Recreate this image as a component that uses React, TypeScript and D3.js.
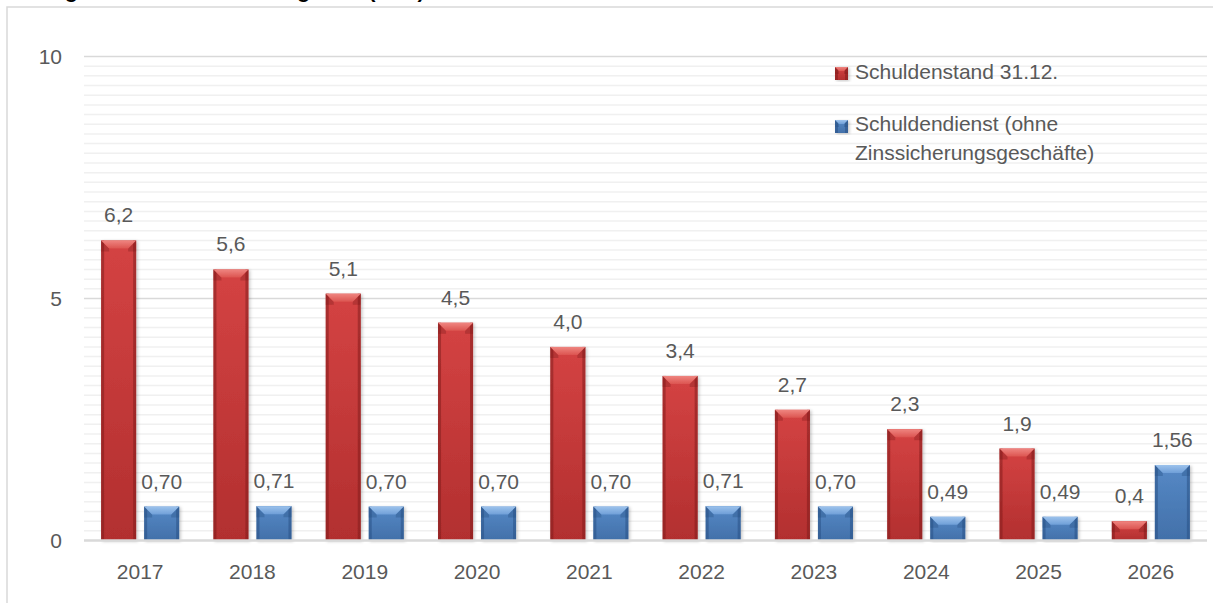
import React from "react";
import * as d3 from "d3";

const years = ["2017", "2018", "2019", "2020", "2021", "2022", "2023", "2024", "2025", "2026"];
const schuldenstand = [6.2, 5.6, 5.1, 4.5, 4.0, 3.4, 2.7, 2.3, 1.9, 0.4];
const schuldendienst = [0.7, 0.71, 0.7, 0.7, 0.7, 0.71, 0.7, 0.49, 0.49, 1.56];
const seriesNames = ["Schuldenstand 31.12.", "Schuldendienst (ohne Zinssicherungsgeschäfte)"];
const yTicks = [0, 5, 10];
const titleText = "Prognose der Verschuldung 2026 (Mio.)";

const W = 1213;
const H = 603;
const FONT = "'Liberation Sans', Arial, sans-serif";
const TXT = "#595959";

const palettes = [
  { id: "red", top: "#dc5551", face0: "#d44343", face1: "#b22f2f", edge: "#7e1a1a", bevel: "#ef8580" },
  { id: "blue", top: "#6f9fd8", face0: "#5689c6", face1: "#4270a9", edge: "#264e82", bevel: "#9cc2ec" },
];

function Bar({ x, y, w, h, p, dmax = 8 }: { x: number; y: number; w: number; h: number; p: (typeof palettes)[0]; dmax?: number }) {
  const d = Math.max(0, Math.min(dmax, h / 2, w / 2));
  const e = Math.min(3, w / 4);
  return (
    <g filter="url(#shadow)">
      <rect x={x} y={y} width={w} height={h} fill={`url(#face-${p.id})`} />
      <rect x={x} y={y} width={e} height={h} fill={p.edge} opacity={0.5} />
      <rect x={x + w - e} y={y} width={e} height={h} fill={p.edge} opacity={0.5} />
      <polygon
        points={`${x},${y} ${x + d},${y + d} ${x + d},${y + d + 3} ${x},${y + d + 3}`}
        fill={p.edge}
        opacity={0.35}
      />
      <polygon
        points={`${x + w},${y} ${x + w - d},${y + d} ${x + w - d},${y + d + 3} ${x + w},${y + d + 3}`}
        fill={p.edge}
        opacity={0.35}
      />
      <polygon
        points={`${x},${y} ${x + w},${y} ${x + w - d},${y + d} ${x + d},${y + d}`}
        fill={`url(#bevel-${p.id})`}
      />
    </g>
  );
}

export default function App() {
  const x0 = d3
    .scaleBand<string>()
    .domain(years)
    .range([84, 1207])
    .paddingInner(0.305)
    .paddingOuter(0.1525);
  const x1 = d3
    .scaleBand<number>()
    .domain([0, 1])
    .range([0, x0.bandwidth()])
    .paddingInner(0.186);
  const y = d3.scaleLinear().domain([0, 10]).range([540.5, 56.5]);
  const minor = d3.range(0, 10.0001, 0.2).filter((v) => Math.abs(v % 5) > 0.01 && Math.abs((v % 5) - 5) > 0.01);
  const series = [schuldenstand, schuldendienst];
  const fmt = [(v: number) => d3.format(".1f")(v).replace(".", ","), (v: number) => d3.format(".2f")(v).replace(".", ",")];

  return (
    <svg width={W} height={H} style={{ position: "absolute", left: 0, top: 0, display: "block", background: "#fff" }}>
      <defs>
        {palettes.map((p) => (
          <React.Fragment key={p.id}>
            <linearGradient id={`face-${p.id}`} x1="0" y1="0" x2="0" y2="1">
              <stop offset="0" stopColor={p.face0} />
              <stop offset="1" stopColor={p.face1} />
            </linearGradient>
            <linearGradient id={`bevel-${p.id}`} x1="0" y1="0" x2="0" y2="1">
              <stop offset="0" stopColor={p.bevel} />
              <stop offset="1" stopColor={p.top} />
            </linearGradient>
          </React.Fragment>
        ))}
        <filter id="shadow" x="-20%" y="-5%" width="150%" height="115%">
          <feDropShadow dx="1.5" dy="1" stdDeviation="1.5" floodColor="#000" floodOpacity="0.22" />
        </filter>
      </defs>

      {/* cut-off title */}
      <text x={30} y={-2} fontFamily={FONT} fontSize={21} fontWeight="bold" fill="#000">
        {titleText}
      </text>

      {/* chart frame */}
      <rect x={7} y={7} width={1240} height={640} fill="none" stroke="#d9d9d9" strokeWidth={1.5} />

      {/* minor gridlines */}
      {minor.map((v) => (
        <line key={"m" + v} x1={84} x2={1207} y1={y(v)} y2={y(v)} stroke="#f0f0f0" strokeWidth={1.5} />
      ))}
      {/* major gridlines */}
      {yTicks.filter((t) => t > 0).map((t) => (
        <line key={"g" + t} x1={84} x2={1207} y1={y(t)} y2={y(t)} stroke="#d9d9d9" strokeWidth={1.5} />
      ))}

      {/* y labels */}
      {yTicks.map((t) => (
        <text key={"y" + t} x={62} y={y(t) + 7.5} textAnchor="end" fontFamily={FONT} fontSize={21} fill={TXT}>
          {t}
        </text>
      ))}

      {/* bars */}
      {years.map((yr, i) => (
        <g key={yr}>
          {series.map((s, si) => {
            const bx = (x0(yr) as number) + (x1(si) as number);
            const bw = x1.bandwidth();
            const by = y(s[i]);
            const bh = y(0) - by;
            return <Bar key={si} x={bx} y={by} w={bw} h={bh} p={palettes[si]} />;
          })}
        </g>
      ))}

      {/* axis line */}
      <line x1={84} x2={1207} y1={y(0)} y2={y(0)} stroke="#d9d9d9" strokeWidth={2.5} />

      {/* value labels */}
      {years.map((yr, i) =>
        series.map((s, si) => {
          const cx = (x0(yr) as number) + (x1(si) as number) + x1.bandwidth() / 2;
          return (
            <text
              key={yr + "l" + si}
              x={cx}
              y={y(s[i]) - 18}
              textAnchor="middle"
              fontFamily={FONT}
              fontSize={21}
              fill={TXT}
            >
              {fmt[si](s[i])}
            </text>
          );
        })
      )}

      {/* x labels */}
      {years.map((yr) => (
        <text
          key={"x" + yr}
          x={(x0(yr) as number) + x0.bandwidth() / 2}
          y={579}
          textAnchor="middle"
          fontFamily={FONT}
          fontSize={21}
          fill={TXT}
        >
          {yr}
        </text>
      ))}

      {/* legend */}
      <Bar x={835} y={67} w={13} h={13} p={palettes[0]} dmax={4} />
      <text x={855} y={79} fontFamily={FONT} fontSize={21} fill={TXT}>
        {seriesNames[0]}
      </text>
      <Bar x={835} y={120} w={13} h={13} p={palettes[1]} dmax={4} />
      <text x={855} y={131} fontFamily={FONT} fontSize={21} fill={TXT}>
        <tspan x={855}>Schuldendienst (ohne</tspan>
        <tspan x={855} dy={29}>Zinssicherungsgeschäfte)</tspan>
      </text>
    </svg>
  );
}
